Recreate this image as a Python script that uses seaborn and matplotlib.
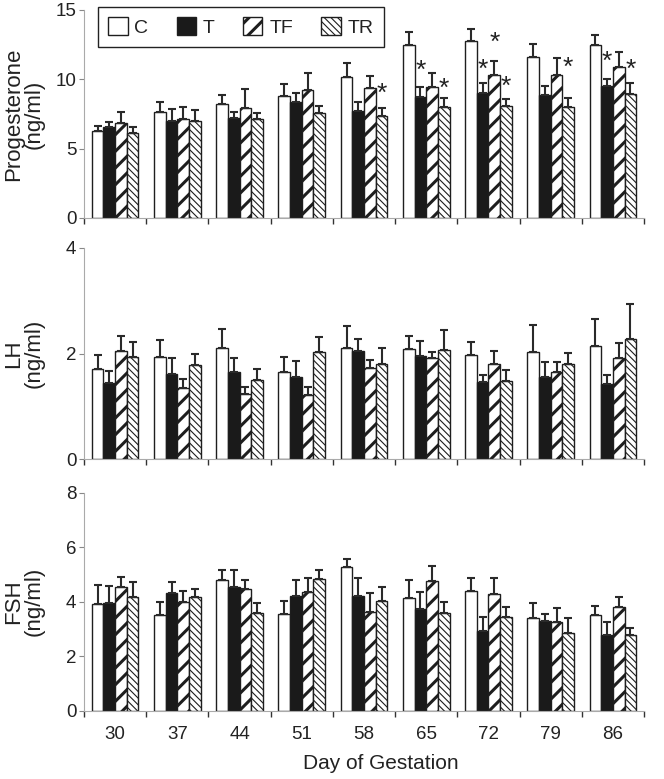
import numpy as np
import pandas as pd
import matplotlib
matplotlib.use('Agg')
import matplotlib.pyplot as plt
import matplotlib.transforms as mtransforms
import seaborn as sns
from matplotlib.patches import Patch
from matplotlib.ticker import FixedLocator

# ---------------- data ----------------
days = ['30', '37', '44', '51', '58', '65', '72', '79', '86']
groups = ['C', 'T', 'TF', 'TR']

prog_C = [6.31, 7.68, 8.21, 8.78, 10.15, 12.48, 12.74, 11.59, 12.46]
prog_T = [6.58, 7.01, 7.20, 8.38, 7.73, 8.76, 9.05, 8.90, 9.53]
prog_TF = [6.82, 7.13, 7.92, 9.24, 9.36, 9.48, 10.30, 10.34, 10.92]
prog_TR = [6.12, 7.03, 7.13, 7.54, 7.37, 8.04, 8.09, 7.97, 8.93]
prog_C_err = [0.34, 0.65, 0.67, 0.87, 1.01, 0.91, 0.87, 0.96, 0.74]
prog_T_err = [0.36, 0.84, 0.41, 0.62, 0.67, 0.72, 0.67, 0.65, 0.47]
prog_TF_err = [0.86, 0.89, 1.39, 1.20, 0.89, 0.96, 1.05, 1.18, 1.03]
prog_TR_err = [0.46, 0.75, 0.43, 0.55, 0.53, 0.58, 0.50, 0.67, 0.84]

lh_C = [1.70, 1.93, 2.11, 1.64, 2.10, 2.08, 1.98, 2.03, 2.14]
lh_T = [1.45, 1.61, 1.65, 1.56, 2.05, 1.96, 1.46, 1.56, 1.42]
lh_TF = [2.05, 1.34, 1.23, 1.22, 1.73, 1.92, 1.80, 1.64, 1.91]
lh_TR = [1.93, 1.78, 1.49, 2.02, 1.80, 2.07, 1.47, 1.81, 2.28]
lh_C_err = [0.27, 0.32, 0.36, 0.29, 0.43, 0.26, 0.24, 0.51, 0.52]
lh_T_err = [0.21, 0.31, 0.27, 0.29, 0.22, 0.27, 0.13, 0.27, 0.17]
lh_TF_err = [0.29, 0.17, 0.13, 0.15, 0.14, 0.10, 0.24, 0.20, 0.28]
lh_TR_err = [0.29, 0.21, 0.21, 0.29, 0.30, 0.38, 0.21, 0.20, 0.66]

fsh_C = [3.90, 3.52, 4.81, 3.56, 5.28, 4.15, 4.39, 3.41, 3.52]
fsh_T = [3.96, 4.31, 4.55, 4.22, 4.22, 3.72, 2.92, 3.31, 2.76]
fsh_TF = [4.53, 3.98, 4.48, 4.37, 3.61, 4.76, 4.28, 3.27, 3.80]
fsh_TR = [4.18, 4.18, 3.60, 4.82, 4.02, 3.60, 3.44, 2.84, 2.79]
fsh_C_err = [0.71, 0.48, 0.35, 0.45, 0.30, 0.63, 0.48, 0.54, 0.32]
fsh_T_err = [0.61, 0.42, 0.60, 0.56, 0.65, 0.62, 0.53, 0.24, 0.51]
fsh_TF_err = [0.36, 0.40, 0.33, 0.50, 0.70, 0.55, 0.60, 0.51, 0.36]
fsh_TR_err = [0.54, 0.27, 0.36, 0.33, 0.52, 0.40, 0.35, 0.55, 0.26]

# significance stars on progesterone panel (day, group, y position)
star_day = ['58', '65', '65', '72', '72', '72', '79', '86', '86']
star_group = ['TR', 'T', 'TR', 'T', 'TF', 'TR', 'TR', 'T', 'TR']
star_y = [9.53, 11.23, 9.89, 11.28, 13.2, 10.03, 11.4, 11.88, 11.28]

panels = [
    dict(name='Progesterone', label='Progesterone\n(ng/ml)', ylim=15, yticks=[0, 5, 10, 15],
         means=[prog_C, prog_T, prog_TF, prog_TR],
         errs=[prog_C_err, prog_T_err, prog_TF_err, prog_TR_err]),
    dict(name='LH', label='LH\n(ng/ml)', ylim=4, yticks=[0, 2, 4],
         means=[lh_C, lh_T, lh_TF, lh_TR],
         errs=[lh_C_err, lh_T_err, lh_TF_err, lh_TR_err]),
    dict(name='FSH', label='FSH\n(ng/ml)', ylim=8, yticks=[0, 2, 4, 6, 8],
         means=[fsh_C, fsh_T, fsh_TF, fsh_TR],
         errs=[fsh_C_err, fsh_T_err, fsh_TF_err, fsh_TR_err]),
]

# ---------------- style ----------------
sns.set_theme(style='white')
plt.rcParams['font.family'] = ['Liberation Sans', 'DejaVu Sans']
TXT = '#222222'
EDGE = '#1e1e1e'
fills = {'C': 'white', 'T': '#1a1a1a', 'TF': 'white', 'TR': 'white'}
hatches = {'C': '', 'T': '', 'TF': '//', 'TR': '\\\\\\\\\\'}
hatch_lw = {'C': 1.0, 'T': 1.0, 'TF': 2.2, 'TR': 0.8}
STAR_FS = 19


def set_hlw(p, lw):
    if hasattr(p, 'set_hatch_linewidth'):
        p.set_hatch_linewidth(lw)
    else:
        p._hatch_linewidth = lw


fig = plt.figure(figsize=(6.64, 7.79), dpi=100)
W, H = 664, 779
L, R = 84, 644
rects = [(10, 218), (248, 459), (492.7, 710.7)]

for k, (pn, (ytop, ybot)) in enumerate(zip(panels, rects)):
    ax = fig.add_axes([L / W, 1 - ybot / H, (R - L) / W, (ybot - ytop) / H])
    rows = []
    for g, m in zip(groups, pn['means']):
        for d, v in zip(days, m):
            rows.append(dict(day=d, group=g, value=v))
    df = pd.DataFrame(rows)
    sns.barplot(data=df, x='day', y='value', hue='group', order=days, hue_order=groups,
                palette=fills, width=0.75, gap=0, errorbar=None, saturation=1,
                edgecolor=EDGE, linewidth=1.0, legend=False, ax=ax)
    centers = {}
    for g, cont, err in zip(groups, ax.containers, pn['errs']):
        xs, ys = [], []
        for d, bar in zip(days, cont):
            bar.set_hatch(hatches[g])
            set_hlw(bar, hatch_lw[g])
            bar.set_edgecolor(EDGE)
            x = bar.get_x() + bar.get_width() / 2
            xs.append(x)
            ys.append(bar.get_height())
            centers[(d, g)] = x
        ax.errorbar(xs, ys, yerr=[np.zeros(len(err)), err], fmt='none',
                    ecolor='#2a2a2a', elinewidth=1.5, capsize=2.6, capthick=1.5, zorder=1)

    ax.set_xlim(-0.5, len(days) - 0.5)
    ax.set_ylim(0, pn['ylim'])
    ax.set_yticks(pn['yticks'])
    ax.tick_params(axis='y', which='major', length=3.5, width=0.8, color='#888888',
                   labelsize=13.5, labelcolor=TXT, pad=2, left=True)
    ax.xaxis.set_minor_locator(FixedLocator(np.arange(-0.5, len(days), 1.0)))
    ax.tick_params(axis='x', which='major', length=0, labelsize=13.5, labelcolor=TXT, pad=11)
    ax.tick_params(axis='x', which='minor', length=4, width=1.0, color='#333333', bottom=True)
    for s in ['top', 'right']:
        ax.spines[s].set_visible(False)
    for s in ['left', 'bottom']:
        ax.spines[s].set_color('#aaaaaa')
        ax.spines[s].set_linewidth(0.8)
    ax.set_ylabel(pn['label'], fontsize=16, color=TXT, linespacing=1.0)
    ax.yaxis.set_label_coords(-0.07, 0.5)
    if k < 2:
        ax.set_xticklabels([])
        ax.set_xlabel('')
    else:
        ax.set_xlabel('Day of Gestation', fontsize=15, color=TXT)
        ax.xaxis.set_label_coords(0.53, -0.2)

    if k == 0:
        star_tr = mtransforms.offset_copy(ax.transData, fig=fig, x=0,
                                          y=-0.58 * STAR_FS, units='points')
        for d, g, y in zip(star_day, star_group, star_y):
            ax.text(centers[(d, g)], y, '*', ha='center', va='baseline',
                    fontsize=STAR_FS, color=TXT, transform=star_tr)
        handles = [Patch(facecolor=fills[g], edgecolor=EDGE, hatch=hatches[g], linewidth=1.0,
                         label=g) for g in groups]
        leg = ax.legend(handles=handles, loc='center', bbox_to_anchor=(0.28, 0.918),
                        ncol=4, fontsize=14, frameon=True, fancybox=False, framealpha=1,
                        edgecolor='#222222', handlelength=1.0, handleheight=1.0,
                        handletextpad=0.35, columnspacing=1.45, borderpad=0.55)
        leg.get_frame().set_linewidth(1.0)
        for g, p in zip(groups, leg.get_patches()):
            set_hlw(p, hatch_lw[g])
        for t in leg.get_texts():
            t.set_color(TXT)

fig.savefig('out.png', dpi=100)
